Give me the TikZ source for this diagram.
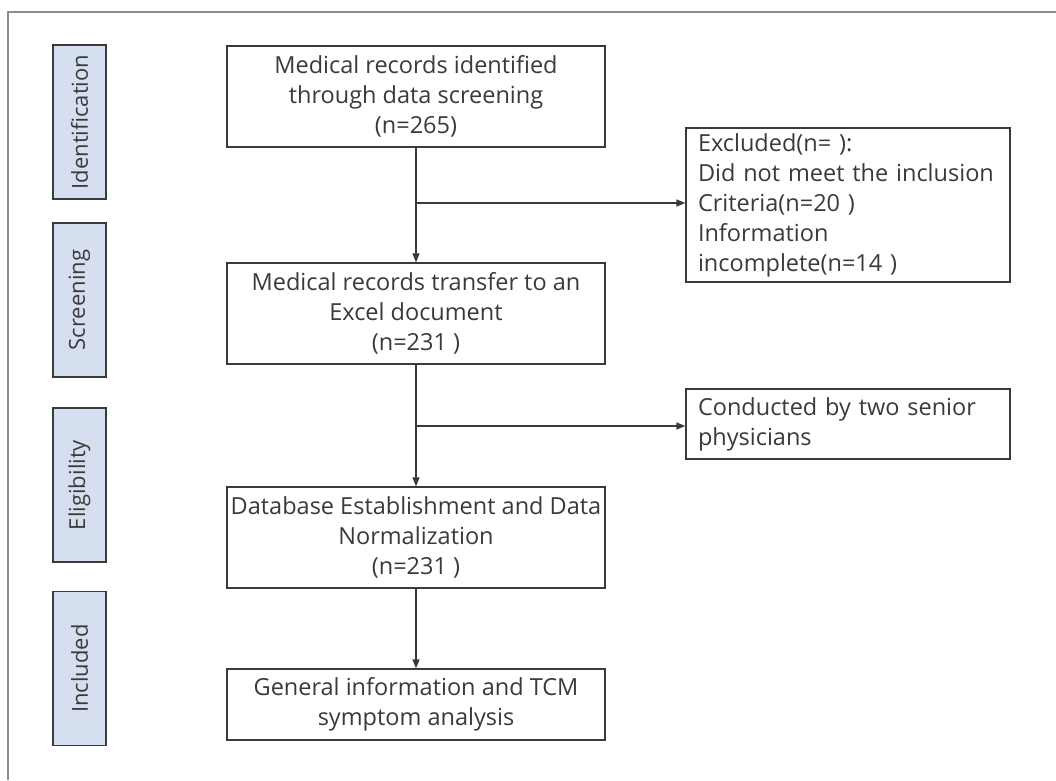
\documentclass[tikz,border=0pt]{standalone}
\usepackage{fontspec}
\setmainfont{Open Sans}
\usetikzlibrary{arrows.meta}
\definecolor{stageblue}{RGB}{214,223,239}
\definecolor{framegray}{RGB}{140,140,140}
\definecolor{inkgray}{RGB}{58,58,58}
\begin{document}
\begin{tikzpicture}[x=1pt,y=-1pt,
  flowbox/.style={draw=inkgray, line width=1.3pt, text=inkgray, inner sep=0pt,
    font=\fontsize{23.5}{30}\selectfont},
  mainbox/.style={flowbox, minimum width=378pt, align=center},
  sidebox/.style={flowbox, fill=stageblue, rotate=90,
    minimum width=154pt, minimum height=53pt, font=\fontsize{22}{26}\selectfont},
  notebox/.style={flowbox, text width=300pt, inner xsep=12pt, align=left},
  arrow/.style={draw=inkgray, line width=1.3pt, -{Triangle[length=9pt,width=7pt]}}
]
\useasboundingbox (0,0) rectangle (1056,780);
% outer frame (top and left edges)
\draw[framegray, line width=2pt] (8,780) -- (8,12) -- (1056,12);

% stage labels
\node[sidebox] (s1) at (79.5,122) {Identification};
\node[sidebox] (s2) at (79.5,300) {Screening};
\node[sidebox] (s3) at (79.5,485) {Eligibility};
\node[sidebox] (s4) at (79.5,668.5) {Included};

% main flow
\node[mainbox, minimum height=101pt] (b1) at (416,96.5)
  {Medical records identified\\through data screening\\(n=265)};
\node[mainbox, minimum height=101pt] (b2) at (416,313.5)
  {Medical records transfer to an\\Excel document\\(n=231 )};
\node[mainbox, minimum height=101pt] (b3) at (416,537.5)
  {Database Establishment and Data\\Normalization\\(n=231 )};
\node[mainbox, minimum height=71pt] (b4) at (416,704.5)
  {General information and TCM\\symptom analysis};

% side notes
\node[notebox, minimum height=154pt] (e1) at (848,205)
  {Excluded(n= ):\\Did not meet the inclusion\\Criteria(n=20 )\\Information\\incomplete(n=14 )};
\node[notebox, minimum height=70pt] (e2) at (848,424)
  {Conducted by two senior\\physicians};

% connectors
\coordinate (j1) at (416,203);
\coordinate (j2) at (416,426);
\draw[arrow] (b1.south) -- (b2.north);
\draw[arrow] (b2.south) -- (b3.north);
\draw[arrow] (b3.south) -- (b4.north);
\draw[arrow] (j1) -- (j1 -| e1.west);
\draw[arrow] (j2) -- (j2 -| e2.west);
\end{tikzpicture}
\end{document}
